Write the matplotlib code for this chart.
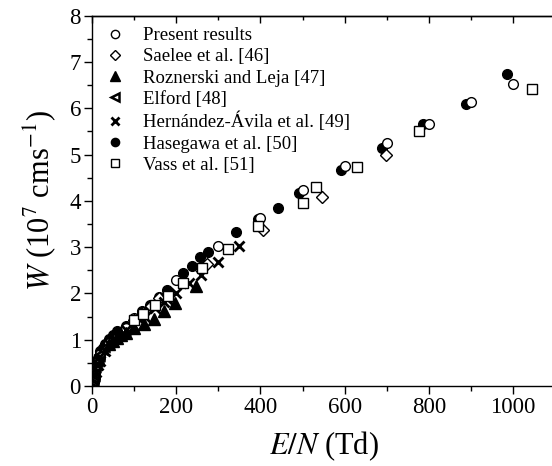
import matplotlib
matplotlib.use("Agg")
import matplotlib.pyplot as plt
from matplotlib.ticker import MultipleLocator

plt.rcParams['font.family'] = ['Liberation Serif', 'DejaVu Serif']
plt.rcParams['mathtext.fontset'] = 'stix'

# Present results (open circles)
present_x = [5, 10, 15, 20, 40, 60, 80, 100, 200, 300, 400, 500, 600, 700, 800, 900, 1000]
present_y = [0.12, 0.38, 0.55, 0.70, 0.93, 1.04, 1.25, 1.46, 2.30, 3.03, 3.62, 4.23, 4.75, 5.24, 5.66, 6.14, 6.52]

# Saelee et al. [46] (open diamonds)
saelee_x = [100, 120, 140, 160, 260, 273, 407, 546, 697]
saelee_y = [1.42, 1.57, 1.72, 1.90, 2.55, 2.64, 3.37, 4.09, 5.00]

# Roznerski and Leja [47] (filled triangles)
rozn_x = [40, 50, 60, 70, 80, 100, 123, 147, 171, 196, 246]
rozn_y = [0.90, 0.98, 1.04, 1.10, 1.15, 1.25, 1.35, 1.44, 1.62, 1.79, 2.15]

# Elford [48] (left triangles)
elford_x = [2, 3, 4, 5, 6, 7, 8, 10, 12, 14, 16, 18, 20, 25, 30]
elford_y = [0.04, 0.08, 0.12, 0.17, 0.22, 0.27, 0.31, 0.40, 0.47, 0.54, 0.60, 0.65, 0.70, 0.78, 0.85]

# Hernandez-Avila et al. [49] (crosses)
hern_x = [10, 15, 20, 30, 40, 60, 80, 100, 125, 150, 170, 178, 200, 231, 258, 299, 349]
hern_y = [0.30, 0.45, 0.55, 0.75, 0.90, 1.07, 1.20, 1.30, 1.50, 1.68, 1.82, 1.89, 2.00, 2.22, 2.39, 2.67, 3.03]

# Hasegawa et al. [50] (filled circles)
hase_x = [3, 4, 5, 6, 8, 10, 12, 15, 20, 25, 30, 40, 50, 60, 80, 100, 118, 138, 158, 177,
          217, 237, 256, 276, 343, 395, 441, 492, 591, 689, 786, 887, 985]
hase_y = [0.06, 0.10, 0.15, 0.20, 0.30, 0.40, 0.50, 0.60, 0.75, 0.83, 0.90, 1.02, 1.10, 1.18, 1.30, 1.45,
          1.61, 1.76, 1.93, 2.08, 2.44, 2.59, 2.78, 2.89, 3.32, 3.60, 3.84, 4.18, 4.67, 5.15, 5.67, 6.10, 6.73]

# Vass et al. [51] (open squares)
vass_x = [100, 120, 150, 180, 216, 261, 323, 393, 501, 531, 628, 777, 1044]
vass_y = [1.42, 1.55, 1.75, 1.95, 2.23, 2.55, 2.96, 3.45, 3.96, 4.29, 4.73, 5.51, 6.41]

fig = plt.figure(figsize=(5.52, 4.66), dpi=100)
ax = fig.add_axes([92 / 552, 1 - 386 / 466, 1 - 92 / 552 + 0.006, (386 - 15.7) / 466])

ms = 7
ax.plot(present_x, present_y, 'o', mfc='white', mec='black', mew=1.0, ms=ms, ls='none',
        label='Present results', zorder=3)
ax.plot(saelee_x, saelee_y, 'D', mfc='white', mec='black', mew=1.0, ms=6, ls='none',
        label='Saelee et al. [46]', zorder=3)
ax.plot(rozn_x, rozn_y, '^', mfc='black', mec='black', ms=8, ls='none',
        label='Roznerski and Leja [47]', zorder=3)
ax.plot(elford_x, elford_y, '<', mfc='white', mec='black', mew=1.8, ms=6, ls='none',
        label='Elford [48]', zorder=3)
ax.plot(hern_x, hern_y, 'x', color='black', mew=2.0, ms=7, ls='none',
        label='Hernández-Ávila et al. [49]', zorder=3)
ax.plot(hase_x, hase_y, 'o', mfc='black', mec='black', ms=ms, ls='none',
        label='Hasegawa et al. [50]', zorder=2)
ax.plot(vass_x, vass_y, 's', mfc='white', mec='black', mew=1.0, ms=6.5, ls='none',
        label='Vass et al. [51]', zorder=3)

ax.set_xlim(0, 1100)
ax.set_ylim(0, 8)
ax.xaxis.set_major_locator(MultipleLocator(200))
ax.xaxis.set_minor_locator(MultipleLocator(100))
ax.yaxis.set_major_locator(MultipleLocator(1))
ax.yaxis.set_minor_locator(MultipleLocator(0.5))

ax.spines['right'].set_visible(False)
for s in ['top', 'bottom', 'left']:
    ax.spines[s].set_linewidth(1.0)
ax.tick_params(axis='both', which='both', direction='out', labelsize=16.5, pad=2)
ax.tick_params(which='major', length=6, width=1.0)
ax.tick_params(which='minor', length=3.5, width=1.0)

# top axis: ticks pointing inward, no labels
top = ax.secondary_xaxis('top')
top.xaxis.set_major_locator(MultipleLocator(200))
top.xaxis.set_minor_locator(MultipleLocator(100))
top.tick_params(which='both', direction='in', labeltop=False)
top.tick_params(which='major', length=5, width=1.0)
top.tick_params(which='minor', length=3, width=1.0)
top.spines['top'].set_linewidth(1.0)

ax.set_xlabel(r'$E/N$ (Td)', fontsize=22, labelpad=8)
ax.set_ylabel(r'$W$ (10$^7$ cms$^{-1}$)', fontsize=22, labelpad=8)

ax.legend(loc='upper left', frameon=False, fontsize=13.5, handletextpad=0.9,
          labelspacing=0.22, borderaxespad=0.2, markerscale=0.85, handlelength=1.2,
          bbox_to_anchor=(0.0, 1.0))

fig.savefig('out.png', dpi=100)
